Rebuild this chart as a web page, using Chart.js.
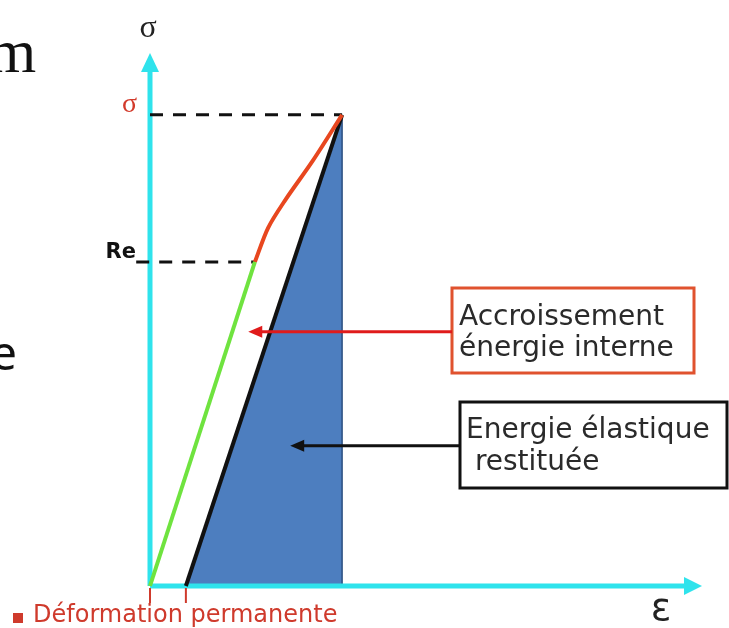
<!DOCTYPE html>
<html>
<head>
<meta charset="utf-8">
<script src="https://cdn.jsdelivr.net/npm/chart.js@4"></script>
<style>
  html, body { margin: 0; padding: 0; background: #fff; }
  canvas { display: block; }
</style>
</head>
<body>
<canvas id="chart" width="729" height="628"></canvas>
<script>
// strain (epsilon) / stress (sigma) in chart units
const xMax = 10, yMax = 10;
const elasticX = [0, 1.90];
const elasticY = [0, 6.08];
const plasticX = [1.90, 2.14, 2.45, 2.95, 3.48];
const plasticY = [6.08, 6.72, 7.24, 7.98, 8.84];
const unloadX = [0.65, 3.48];
const unloadY = [0, 8.84];
const arrowInternal = [1.78, 4.77];
const arrowElastic = [2.54, 2.63];

const labelInternal = ['Accroissement', 'énergie interne'];
const labelElastic = ['Energie élastique', ' restituée'];

const peakX = plasticX[plasticX.length - 1], peakY = plasticY[plasticY.length - 1];
const reX = elasticX[1], reY = elasticY[1];

const pts = (xs, ys) => xs.map((x, i) => ({ x: x, y: ys[i] }));
const line = (data, color, width, extra) => Object.assign({
  data: data, borderColor: color, borderWidth: width, showLine: true,
  pointRadius: 0, fill: false, clip: false, order: 0
}, extra || {});

const cyan = '#2fe3ec';

function head(ctx, tx, ty, dx, dy, len, half) {
  // arrow head pointing along (dx, dy)
  const nx = -dy, ny = dx;
  ctx.beginPath();
  ctx.moveTo(tx, ty);
  ctx.lineTo(tx - dx * len + nx * half, ty - dy * len + ny * half);
  ctx.lineTo(tx - dx * len - nx * half, ty - dy * len - ny * half);
  ctx.closePath();
  ctx.fill();
}

const decor = {
  id: 'decor',
  afterDatasetsDraw(chart) {
    const ctx = chart.ctx;
    const sx = chart.scales.x, sy = chart.scales.y;
    const px = v => sx.getPixelForValue(v), py = v => sy.getPixelForValue(v);
    ctx.save();

    // axis arrow heads
    ctx.fillStyle = cyan;
    head(ctx, px(xMax), py(0), 1, 0, 18, 9);
    head(ctx, px(0), py(yMax), 0, -1, 19, 9);

    // permanent deformation ticks
    ctx.strokeStyle = '#cf3a2c';
    ctx.lineWidth = 2;
    [0, unloadX[0]].forEach(v => {
      ctx.beginPath();
      ctx.moveTo(px(v), py(0) + 2);
      ctx.lineTo(px(v), py(0) + 17);
      ctx.stroke();
    });

    // left side leftovers of the slide
    ctx.fillStyle = '#111';
    ctx.textBaseline = 'alphabetic';
    ctx.textAlign = 'left';
    ctx.font = '62px "Liberation Serif"';
    ctx.fillText('m', -12, 72);
    ctx.font = '48px "Noto Sans"';
    ctx.fillText('e', -10, 370);

    // axis labels
    ctx.fillStyle = '#222';
    ctx.textAlign = 'center';
    ctx.font = '32px "Liberation Serif"';
    ctx.fillText('σ', px(0) - 2, 37);
    ctx.font = '38px "DejaVu Sans"';
    ctx.fillText('ε', 661, 620);

    // sigma and Re marks on the y axis
    ctx.textAlign = 'right';
    ctx.fillStyle = '#d23a2b';
    ctx.font = '28px "Liberation Serif"';
    ctx.fillText('σ', 137, py(peakY) - 3);
    ctx.fillStyle = '#111';
    ctx.font = 'bold 21px "DejaVu Sans"';
    ctx.fillText('Re', 136, py(reY) - 4);

    // bottom caption
    ctx.fillStyle = '#cf3a2c';
    ctx.fillRect(13, 613, 10, 10);
    ctx.textAlign = 'left';
    ctx.font = '24px "DejaVu Sans"';
    ctx.fillText('Déformation permanente', 33, 622);

    // boxes
    ctx.lineWidth = 3;
    ctx.strokeStyle = '#e0522e';
    ctx.strokeRect(452, 288, 242, 85);
    ctx.strokeStyle = '#111';
    ctx.strokeRect(460, 402, 267, 86);
    ctx.fillStyle = '#2a2a2a';
    ctx.font = '28px "DejaVu Sans"';
    ctx.fillText(labelInternal[0], 459, 325);
    ctx.fillText(labelInternal[1], 459, 356);
    ctx.fillText(labelElastic[0], 466, 438);
    ctx.fillText(labelElastic[1], 466, 470);

    // pointer arrows
    [[arrowInternal, 452, '#e01b1b'], [arrowElastic, 460, '#111']].forEach(a => {
      const tx = px(a[0][0]), ty = py(a[0][1]);
      ctx.strokeStyle = a[2];
      ctx.fillStyle = a[2];
      ctx.lineWidth = 3;
      ctx.beginPath();
      ctx.moveTo(a[1], ty);
      ctx.lineTo(tx + 10, ty);
      ctx.stroke();
      head(ctx, tx, ty, -1, 0, 14, 6);
    });

    ctx.restore();
  }
};

new Chart(document.getElementById('chart'), {
  type: 'scatter',
  data: {
    datasets: [
      line(pts(elasticX, elasticY), '#6fe33f', 4),
      line(pts(plasticX, plasticY), '#e8471f', 4, { tension: 0.3 }),
      line(pts(unloadX, unloadY), '#111', 4),
      line([{ x: 0, y: peakY }, { x: peakX, y: peakY }], '#111', 3, { borderDash: [13, 10] }),
      line([{ x: -0.25, y: reY }, { x: reX, y: reY }], '#111', 3, { borderDash: [13, 10] }),
      line([{ x: 0, y: 0 }, { x: xMax - 0.3, y: 0 }], cyan, 5, { order: 5 }),
      line([{ x: 0, y: 0 }, { x: 0, y: yMax - 0.3 }], cyan, 5, { order: 5 }),
      line([{ x: peakX, y: 0 }, { x: peakX, y: peakY }], '#2a4f80', 1.5, { order: 9 }),
      line(pts(unloadX, unloadY), 'rgba(0,0,0,0)', 0, { fill: 'origin', backgroundColor: '#4d7ebf', order: 10 })
    ]
  },
  options: {
    responsive: false,
    animation: false,
    layout: { padding: { left: 150, right: 27, top: 53, bottom: 42 } },
    plugins: { legend: { display: false }, tooltip: { enabled: false } },
    scales: {
      x: { type: 'linear', min: 0, max: xMax, display: false },
      y: { type: 'linear', min: 0, max: yMax, display: false }
    }
  },
  plugins: [decor]
});
</script>
</body>
</html>
